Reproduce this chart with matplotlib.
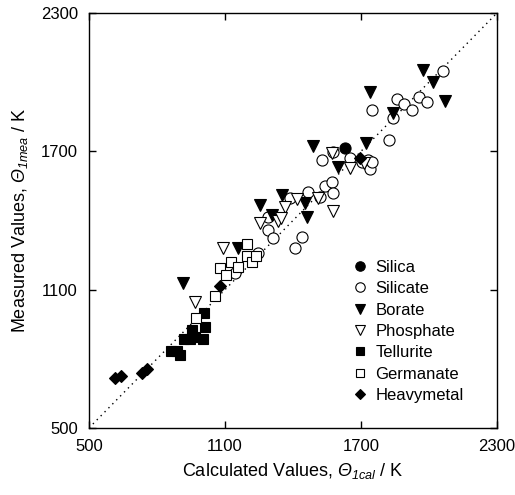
import matplotlib
matplotlib.use("Agg")
import matplotlib.pyplot as plt

plt.rcParams['font.family'] = ['Liberation Sans', 'DejaVu Sans']
plt.rcParams['mathtext.fontset'] = 'custom'
plt.rcParams['mathtext.rm'] = 'Liberation Sans:italic'
plt.rcParams['mathtext.it'] = 'Liberation Sans:italic'

# ---- data (calculated, measured) ----
silica_x = [1629]
silica_y = [1714]

silicate_x = [1144, 1246, 1290, 1290, 1312, 1409, 1440, 1387, 1467, 1519, 1541, 1572, 1577,
              1528, 1577, 1652, 1704, 1731, 1740, 1749, 1824, 1841, 1749, 1859, 1890, 1925,
              1956, 1991, 2062]
silicate_y = [1172, 1259, 1415, 1359, 1324, 1281, 1328, 1498, 1524, 1502, 1550, 1567, 1519,
              1662, 1697, 1671, 1654, 1662, 1623, 1654, 1749, 1844, 1879, 1927, 1905, 1879,
              1936, 1914, 2048]

borate_x = [915, 1157, 1254, 1307, 1352, 1453, 1462, 1488, 1599, 1722, 1740, 1841, 1974, 2018, 2071]
borate_y = [1129, 1281, 1467, 1424, 1510, 1476, 1415, 1723, 1632, 1736, 1957, 1866, 2053, 2001, 1918]

phosphate_x = [968, 1091, 1254, 1334, 1365, 1347, 1418, 1510, 1577, 1572, 1652, 1713]
phosphate_y = [1046, 1281, 1389, 1398, 1458, 1411, 1493, 1497, 1441, 1693, 1628, 1649]

tellurite_x = [862, 888, 901, 919, 946, 968, 1003, 954, 1012, 1007]
tellurite_y = [834, 834, 817, 886, 886, 895, 886, 925, 938, 999]

germanate_x = [972, 1056, 1078, 1104, 1127, 1157, 1197, 1197, 1219, 1237]
germanate_y = [977, 1072, 1194, 1164, 1220, 1198, 1298, 1246, 1220, 1246]

heavy_x = [615, 641, 734, 756, 1078, 1696]
heavy_y = [717, 726, 739, 756, 1116, 1671]

ticks = [500, 1100, 1700, 2300]

fig = plt.figure(figsize=(5.15, 4.95), dpi=100)
ax = fig.add_axes([0.1728, 0.1354, 0.7922, 0.8383])

ax.plot([500, 2300], [500, 2300], linestyle=(0, (1, 3)), color='black', lw=1.0, zorder=1)

ms_kw = dict(linestyle='none', markeredgecolor='black', markeredgewidth=0.8, zorder=3)
ax.plot(silica_x, silica_y, marker='o', markersize=8, markerfacecolor='black', label='Silica', **ms_kw)
ax.plot(silicate_x, silicate_y, marker='o', markersize=8, markerfacecolor='white', label='Silicate', **ms_kw)
ax.plot(borate_x, borate_y, marker='v', markersize=8, markerfacecolor='black', label='Borate', **ms_kw)
ax.plot(phosphate_x, phosphate_y, marker='v', markersize=8, markerfacecolor='white', label='Phosphate', **ms_kw)
ax.plot(tellurite_x, tellurite_y, marker='s', markersize=7, markerfacecolor='black', label='Tellurite', **ms_kw)
ax.plot(germanate_x, germanate_y, marker='s', markersize=7, markerfacecolor='white', label='Germanate', **ms_kw)
ax.plot(heavy_x, heavy_y, marker='D', markersize=6.5, markerfacecolor='black', label='Heavymetal', **ms_kw)

ax.set_xlim(500, 2300)
ax.set_ylim(500, 2300)
ax.set_xticks(ticks)
ax.set_yticks(ticks)
ax.tick_params(direction='in', top=True, right=True, length=5, width=1, labelsize=12, pad=8)
for s in ax.spines.values():
    s.set_linewidth(1.0)

ax.set_xlabel('Calculated Values, $Θ_{1cal}$ / K', fontsize=13, labelpad=5)
ax.set_ylabel('Measured Values, $Θ_{1mea}$ / K', fontsize=13, labelpad=8)

leg = ax.legend(loc='upper left', bbox_to_anchor=(0.645, 0.405), frameon=False, fontsize=12,
                markerscale=0.85, handlelength=1.0, handletextpad=0.4, labelspacing=0.38,
                borderpad=0, borderaxespad=0)

fig.savefig('out.png', dpi=100)
